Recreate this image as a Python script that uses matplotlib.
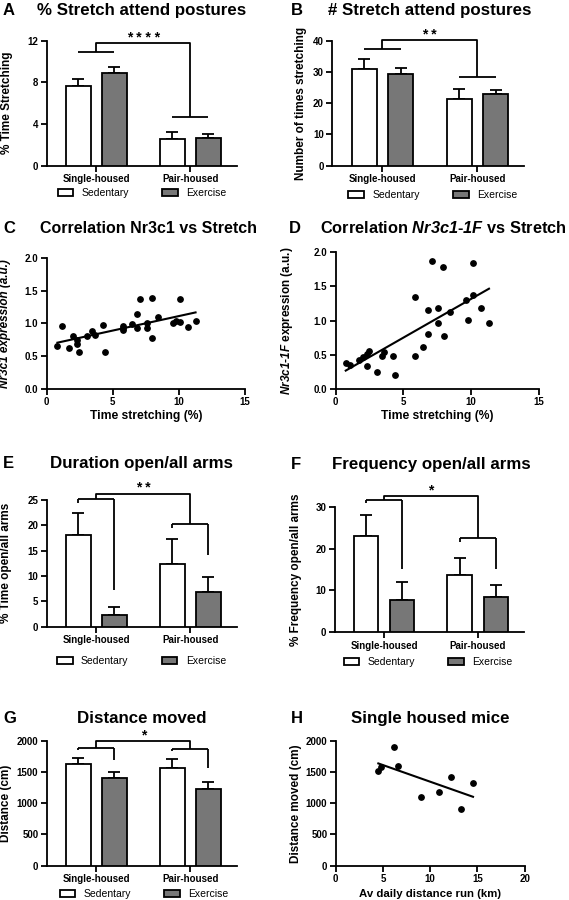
import matplotlib
matplotlib.use('Agg')
import matplotlib.pyplot as plt
from matplotlib.patches import Patch
import numpy as np

plt.rcParams['font.family'] = ['Liberation Sans', 'DejaVu Sans']
plt.rcParams['mathtext.fontset'] = 'custom'
plt.rcParams['mathtext.rm'] = 'Liberation Sans:bold'
plt.rcParams['mathtext.it'] = 'Liberation Sans:italic:bold'
plt.rcParams['mathtext.bf'] = 'Liberation Sans:bold'
plt.rcParams['mathtext.bfit'] = 'Liberation Sans:italic:bold'

groups = ['Single-housed', 'Pair-housed']
conditions = ['Sedentary', 'Exercise']

# A - % time stretch attend postures
pct_stretch_sed = [7.65, 2.56]
pct_stretch_sed_sem = [0.67, 0.64]
pct_stretch_ex = [8.93, 2.66]
pct_stretch_ex_sem = [0.57, 0.34]

# B - number of stretch attend postures
n_stretch_sed = [31.1, 21.4]
n_stretch_sed_sem = [3.2, 3.3]
n_stretch_ex = [29.3, 22.8]
n_stretch_ex_sem = [2.1, 1.3]

# C - Nr3c1 vs time stretching
stretch_c = [0.81, 1.13, 1.71, 2.02, 2.27, 2.32, 2.47, 3.07, 3.40, 3.65, 4.28, 4.41,
             5.74, 5.79, 5.80, 6.42, 6.80, 6.80, 7.05, 7.56, 7.56, 7.93, 7.98, 8.39,
             9.52, 9.77, 10.08, 10.08, 10.70, 11.26]
nr3c1 = [0.66, 0.96, 0.62, 0.80, 0.75, 0.69, 0.56, 0.80, 0.88, 0.82, 0.97, 0.56,
         0.96, 0.90, 0.93, 0.99, 1.14, 0.93, 1.37, 0.93, 1.01, 1.39, 0.78, 1.09,
         1.00, 1.03, 1.02, 1.37, 0.94, 1.04]

# D - Nr3c1-1F vs time stretching
stretch_d = [0.74, 1.03, 1.72, 2.02, 2.29, 2.46, 2.29, 3.07, 3.39, 3.57, 4.25, 4.40,
             5.83, 5.85, 6.47, 6.81, 6.84, 7.08, 7.55, 7.57, 7.92, 7.99, 8.41, 9.59,
             9.76, 10.15, 10.15, 10.74, 11.31]
nr3c1_1f = [0.38, 0.35, 0.42, 0.47, 0.51, 0.56, 0.34, 0.25, 0.49, 0.54, 0.49, 0.20,
            1.34, 0.49, 0.62, 1.16, 0.81, 1.87, 1.18, 0.97, 1.78, 0.78, 1.12, 1.30,
            1.01, 1.38, 1.84, 1.18, 0.96]

# E - duration open/all arms
dur_open_sed = [18.0, 12.4]
dur_open_sed_sem = [4.4, 4.9]
dur_open_ex = [2.4, 6.9]
dur_open_ex_sem = [1.5, 3.0]

# F - frequency open/all arms
freq_open_sed = [23.1, 13.8]
freq_open_sed_sem = [4.9, 3.9]
freq_open_ex = [7.6, 8.4]
freq_open_ex_sem = [4.3, 2.9]

# G - distance moved
dist_sed = [1627, 1557]
dist_sed_sem = [90, 150]
dist_ex = [1397, 1227]
dist_ex_sem = [96, 106]

# H - single housed mice
run_km = [4.51, 4.76, 6.17, 6.60, 9.07, 10.93, 12.17, 13.23, 14.53]
dist_moved = [1520, 1573, 1904, 1600, 1093, 1184, 1424, 907, 1317]

GREY = '#777777'
LW = 1.3
W, H = 569, 900

fig = plt.figure(figsize=(W / 100, H / 100), dpi=100)


def px_axes(l, t, r, b):
    return fig.add_axes([l / W, 1 - b / H, (r - l) / W, (b - t) / H])


def style(ax, l, r, ylab_x):
    for s in ['top', 'right']:
        ax.spines[s].set_visible(False)
    for s in ['left', 'bottom']:
        ax.spines[s].set_linewidth(LW)
    ax.tick_params(direction='out', length=4, width=LW, labelsize=7, pad=2)
    for lbl in ax.get_xticklabels() + ax.get_yticklabels():
        lbl.set_fontweight('bold')
    # ylabel anchor = baseline side of the rotated text
    ax.yaxis.set_label_coords((ylab_x - l) / (r - l), 0.5)


def panel_text(letter, lx, title, tx, base, tsize=12.2):
    fig.text(lx / W, 1 - base / H, letter, fontsize=12, fontweight='bold',
             ha='left', va='baseline')
    fig.text(tx / W, 1 - base / H, title, fontsize=tsize, fontweight='bold',
             ha='center', va='baseline')


centers = np.array([2.0, 5.8])
off = 0.73


def bar_panel(rect, sed, sed_sem, ex, ex_sem, ylim, yticks, ylabel, ylab_x,
              leg_xy, brk, stars):
    l, t, r, b = rect
    ax = px_axes(l, t, r, b)
    ax.bar(centers - off, sed, width=1.0, color='white', edgecolor='k', linewidth=LW, zorder=3)
    ax.bar(centers + off, ex, width=1.0, color=GREY, edgecolor='k', linewidth=LW, zorder=3)
    for xs, ys, es in [(centers - off, sed, sed_sem), (centers + off, ex, ex_sem)]:
        ax.errorbar(xs, ys, yerr=[np.zeros(len(ys)), es], fmt='none', ecolor='k',
                    elinewidth=LW, capsize=4, capthick=LW, zorder=2)
    ys, yp, ytop, legs_s, legs_p = brk
    kw = dict(color='k', lw=LW, clip_on=False, solid_capstyle='butt')
    c1, c2 = centers
    ax.plot([c1 - off, c1 + off], [ys, ys], **kw)
    ax.plot([c2 - off, c2 + off], [yp, yp], **kw)
    if legs_s is not None:
        ax.plot([c1 - off, c1 - off], [ys, legs_s[0]], **kw)
        ax.plot([c1 + off, c1 + off], [ys, legs_s[1]], **kw)
        ax.plot([c2 - off, c2 - off], [yp, legs_p[0]], **kw)
        ax.plot([c2 + off, c2 + off], [yp, legs_p[1]], **kw)
    ax.plot([c1, c1, c2, c2], [ys, ytop, ytop, yp], **kw)
    ax.annotate(' '.join(stars), xy=((c1 + c2) / 2, ytop), xytext=(0, -1),
                textcoords='offset points', ha='center', va='bottom', fontsize=10,
                fontweight='bold', annotation_clip=False)
    ax.set_xlim(0, 7.67)
    ax.set_ylim(*ylim)
    ax.set_yticks(yticks)
    ax.set_xticks(centers)
    ax.set_xticklabels(groups, fontsize=8)
    ax.set_ylabel(ylabel, fontsize=8.5, fontweight='bold')
    style(ax, l, r, ylab_x)
    handles = [Patch(facecolor='white', edgecolor='k', linewidth=LW),
               Patch(facecolor=GREY, edgecolor='k', linewidth=LW)]
    ax.legend(handles, conditions, ncol=2, frameon=False, loc='center',
              bbox_to_anchor=(leg_xy[0] / W, 1 - leg_xy[1] / H), bbox_transform=fig.transFigure,
              fontsize=7.5, handlelength=1.5, handleheight=0.7, handletextpad=0.8,
              columnspacing=3.2, borderpad=0, borderaxespad=0)
    return ax


def scatter_panel(rect, x, y, xlim, ylim, xticks, yticks, xlabel, ylabel, ylab_x,
                  xlab_top, yfmt, lab_size=(8.7, 8.5), italic_label=False):
    l, t, r, b = rect
    ax = px_axes(l, t, r, b)
    ax.scatter(x, y, s=15, color='k', zorder=3, clip_on=False)
    k, c = np.polyfit(x, y, 1)
    xx = np.array([min(x), max(x)])
    ax.plot(xx, k * xx + c, color='k', lw=1.5)
    ax.set_xlim(*xlim)
    ax.set_ylim(*ylim)
    ax.set_xticks(xticks)
    ax.set_yticks(yticks)
    ax.set_yticklabels([yfmt.format(v) for v in yticks])
    ax.set_xlabel(xlabel, fontsize=lab_size[0], fontweight='bold')
    ax.xaxis.set_label_coords(0.5, -(xlab_top - b) / (b - t))
    if italic_label:
        ax.set_ylabel(ylabel, fontsize=lab_size[1], fontweight='bold', fontstyle='italic')
    else:
        ax.set_ylabel(ylabel, fontsize=lab_size[1], fontweight='bold')
    style(ax, l, r, ylab_x)
    return ax


# A
bar_panel((46.7, 40.7, 236.7, 165.7), pct_stretch_sed, pct_stretch_sed_sem,
          pct_stretch_ex, pct_stretch_ex_sem, (0, 12), [0, 4, 8, 12],
          '% Time Stretching', 13.5, (142, 193), (10.88, 4.7, 11.74, None, None), '****')
panel_text('A', 3, '% Stretch attend postures', 142, 15)

# B
bar_panel((332.3, 40.7, 524, 165.7), n_stretch_sed, n_stretch_sed_sem,
          n_stretch_ex, n_stretch_ex_sem, (0, 40), [0, 10, 20, 30, 40],
          'Number of times stretching', 307, (433, 195), (37.5, 28.3, 40.1, None, None), '**')
panel_text('B', 291, '# Stretch attend postures', 430, 15)

# C
scatter_panel((46.7, 257.7, 245, 389), stretch_c, nr3c1, (0, 15), (0, 2.0),
              [0, 5, 10, 15], [0, 0.5, 1.0, 1.5, 2.0], 'Time stretching (%)',
              'Nr3c1 expression (a.u.)', 11.5, 410, '{:.1f}', italic_label=True)
panel_text('C', 3, 'Correlation Nr3c1 vs Stretch', 149, 233, tsize=11.5)

# D
scatter_panel((335.7, 252.3, 539, 389), stretch_d, nr3c1_1f, (0, 15), (0, 2.0),
              [0, 5, 10, 15], [0, 0.5, 1.0, 1.5, 2.0], 'Time stretching (%)',
              r'$\mathbfit{Nr3c1}$-$\mathbfit{1F}$ expression (a.u.)', 295, 410, '{:.1f}')
panel_text('D', 289, r'Correlation $\mathbfit{Nr3c1}$-$\mathbfit{1F}$ vs Stretch', 443, 233,
           tsize=11.75)

# E
bar_panel((46.7, 500, 236.7, 626.7), dur_open_sed, dur_open_sed_sem,
          dur_open_ex, dur_open_ex_sem, (0, 25), [0, 5, 10, 15, 20, 25],
          '% Time open/all arms', 12, (141.5, 661),
          (25.2, 20.2, 26.2, (24.5, 7.2), (19.4, 14.1)), '**')
panel_text('E', 3, 'Duration open/all arms', 142, 468)

# F
bar_panel((334.7, 506.7, 524, 632.3), freq_open_sed, freq_open_sed_sem,
          freq_open_ex, freq_open_ex_sem, (0, 30), [0, 10, 20, 30],
          '% Frequency open/all arms', 302, (428, 662),
          (31.6, 22.6, 32.5, (30.8, 15.1), (21.6, 15.1)), '*')
panel_text('F', 291, 'Frequency open/all arms', 431, 469)

# G
bar_panel((46.7, 740.7, 236.7, 865.7), dist_sed, dist_sed_sem,
          dist_ex, dist_ex_sem, (0, 2000), [0, 500, 1000, 1500, 2000],
          'Distance (cm)', 12, (144, 894),
          (1888, 1861, 2000, (1851, 1691), (1835, 1557)), '*')
panel_text('G', 3, 'Distance moved', 142, 722.7)

# H
scatter_panel((335.7, 740.7, 524.7, 865.7), run_km, dist_moved, (0, 20), (0, 2000),
              [0, 5, 10, 15, 20], [0, 500, 1000, 1500, 2000], 'Av daily distance run (km)',
              'Distance moved (cm)', 302, 889, '{:.0f}', lab_size=(8.2, 8.5))
panel_text('H', 291, 'Single housed mice', 430, 722.7)

fig.savefig('out.png', dpi=100)
